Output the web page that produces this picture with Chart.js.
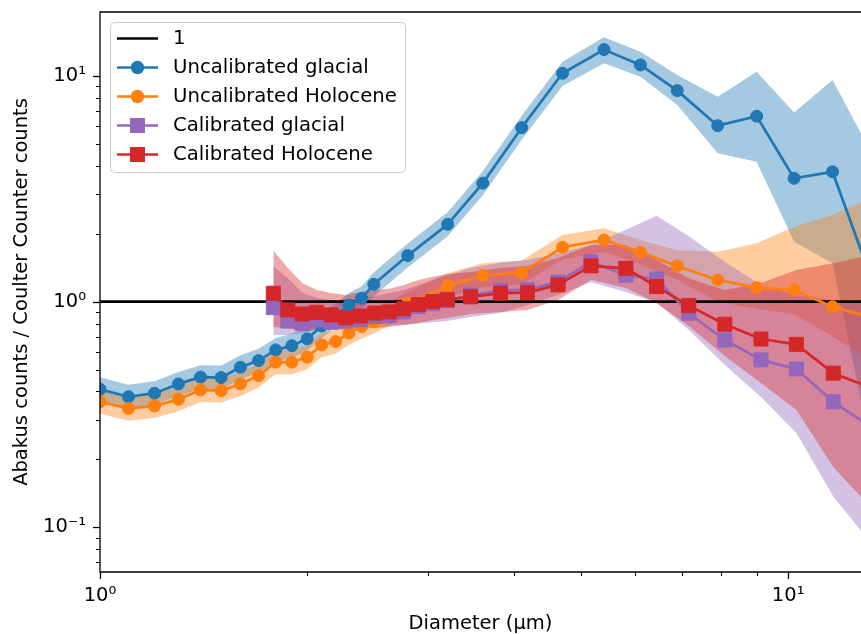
<!DOCTYPE html>
<html><head><meta charset="utf-8">
<script src="https://cdn.jsdelivr.net/npm/chart.js@4/dist/chart.umd.min.js"></script>
<style>
html,body{margin:0;padding:0;background:#fff;overflow:hidden;}
canvas{display:block;}
</style></head><body>
<canvas id="c" width="861" height="634"></canvas>
<script>
// ---------------- data ----------------
const UNCAL_DIAMETER = [1.0,1.1,1.2,1.3,1.4,1.5,1.6,1.7,1.8,1.9,2.0,2.1,2.2,2.3,2.4,2.5,2.8,3.2,3.6,4.1,4.7,5.4,6.1,6.9,7.9,9.0,10.2,11.6,13.2];

const UNCAL_GLACIAL      = [0.409,0.379,0.393,0.432,0.463,0.461,0.512,0.548,0.611,0.638,0.684,0.78,0.87,0.967,1.035,1.194,1.60,2.20,3.35,5.90,10.28,13.08,11.19,8.61,6.02,6.63,3.52,3.76,1.27];
const UNCAL_GLACIAL_HIGH = [0.462,0.428,0.444,0.488,0.523,0.521,0.579,0.619,0.690,0.721,0.773,0.881,0.983,1.093,1.170,1.349,1.81,2.49,3.79,6.67,11.57,14.85,12.8,10.1,8.09,10.45,6.88,9.6,4.6];
const UNCAL_GLACIAL_LOW  = [0.362,0.335,0.348,0.382,0.410,0.408,0.453,0.485,0.541,0.565,0.605,0.69,0.77,0.856,0.916,1.057,1.416,1.947,2.96,5.22,9.03,11.38,9.93,7.44,4.55,4.17,1.84,1.48,0.22];

const UNCAL_HOLOCENE      = [0.360,0.336,0.345,0.369,0.406,0.403,0.432,0.47,0.539,0.539,0.567,0.643,0.665,0.725,0.775,0.815,0.98,1.177,1.309,1.345,1.741,1.877,1.655,1.439,1.248,1.154,1.127,0.95,0.85];
const UNCAL_HOLOCENE_HIGH = [0.407,0.380,0.390,0.417,0.459,0.455,0.488,0.531,0.609,0.609,0.641,0.727,0.751,0.819,0.876,0.921,1.107,1.336,1.48,1.52,1.975,2.115,1.876,1.69,1.665,1.815,2.148,2.42,2.88];
const UNCAL_HOLOCENE_LOW  = [0.319,0.297,0.305,0.327,0.359,0.357,0.382,0.416,0.477,0.477,0.502,0.569,0.588,0.642,0.686,0.721,0.867,1.042,1.158,1.19,1.541,1.661,1.465,1.25,1.0,0.93,0.88,0.70,0.55];

const CAL_DIAMETER = [1.786,1.875,1.967,2.065,2.168,2.275,2.389,2.507,2.632,2.763,2.901,3.045,3.196,3.456,3.82,4.18,4.63,5.17,5.81,6.44,7.17,8.09,9.13,10.28,11.63,13.2];

const CAL_GLACIAL      = [0.94,0.82,0.80,0.83,0.81,0.82,0.83,0.86,0.87,0.90,0.95,0.98,1.01,1.07,1.12,1.13,1.22,1.50,1.31,1.26,0.888,0.676,0.552,0.503,0.36,0.278];
const CAL_GLACIAL_HIGH = [1.43,1.27,1.093,1.038,1.017,1.017,1.04,1.06,1.093,1.127,1.186,1.248,1.31,1.41,1.49,1.53,1.64,1.78,2.08,2.40,1.95,1.50,1.186,1.07,1.017,0.967];
const CAL_GLACIAL_LOW  = [0.712,0.712,0.727,0.75,0.765,0.78,0.80,0.80,0.79,0.79,0.80,0.81,0.82,0.855,0.89,0.967,1.07,1.22,1.104,0.987,0.75,0.524,0.378,0.262,0.137,0.085];

const CAL_HOLOCENE      = [1.09,0.919,0.882,0.897,0.873,0.847,0.864,0.89,0.90,0.93,0.97,1.0,1.02,1.05,1.09,1.096,1.186,1.44,1.405,1.166,0.96,0.794,0.683,0.647,0.482,0.415];
const CAL_HOLOCENE_HIGH = [1.683,1.41,1.21,1.127,1.093,1.07,1.104,1.127,1.14,1.186,1.248,1.29,1.327,1.354,1.41,1.44,1.56,1.78,1.78,1.53,1.27,1.127,1.21,1.38,1.48,1.61];
const CAL_HOLOCENE_LOW  = [0.772,0.765,0.742,0.75,0.757,0.75,0.757,0.765,0.772,0.788,0.804,0.83,0.847,0.882,0.9,0.919,1.017,1.25,1.15,0.987,0.78,0.575,0.436,0.331,0.185,0.122];

const REFERENCE_LEVEL = 1;
const LEGEND_LABELS = ['1','Uncalibrated glacial','Uncalibrated Holocene','Calibrated glacial','Calibrated Holocene'];
const X_TICK_VALUES = [1, 10];
const X_TICK_LABELS = ['10\u2070','10\u00B9'];
const Y_TICK_VALUES = [0.1, 1, 10];
const Y_TICK_LABELS = ['10\u207B\u00B9','10\u2070','10\u00B9'];
const X_LIMITS = [1, 12.76];
const Y_LIMITS = [0.0634, 19.2];
const X_TITLE = 'Diameter (\u03BCm)';
const Y_TITLE = 'Abakus counts / Coulter Counter counts';

// ---------------- styling ----------------
const BLUE='#1f77b4', ORANGE='#ff7f0e', PURPLE='#9467bd', RED='#d62728';
const FILL = {blue:'rgba(31,119,180,0.4)', orange:'rgba(255,127,14,0.4)', purple:'rgba(148,103,189,0.4)', red:'rgba(214,39,40,0.4)'};
const FONT = '"DejaVu Sans", "Liberation Sans", sans-serif';
const FS = 19.5;
const LW = 2.7;

function pts(xs, ys){ return xs.map((x,i)=>({x:x, y:ys[i]})); }

function lineDs(label, xs, ys, color, style, radius, order){
  return {label, data: pts(xs, ys), borderColor: color, backgroundColor: color,
    borderWidth: LW, pointStyle: style, pointRadius: radius, pointBorderWidth: 1,
    pointBorderColor: color, pointBackgroundColor: color, fill: false, order,
    borderJoinStyle:'round', tension: 0};
}
function bandDs(xs, hi, lo, fillColor, order){
  return [
    {label:'_hi', data: pts(xs, hi), borderWidth: 0, borderColor:'rgba(0,0,0,0)', pointRadius: 0, fill: false, order, tension:0},
    {label:'_lo', data: pts(xs, lo), borderWidth: 0, borderColor:'rgba(0,0,0,0)', pointRadius: 0, fill: '-1', backgroundColor: fillColor, order, tension:0}
  ];
}

const datasets = [
  lineDs(LEGEND_LABELS[4], CAL_DIAMETER, CAL_HOLOCENE, RED, 'rect', 9.9, 0),
  lineDs(LEGEND_LABELS[3], CAL_DIAMETER, CAL_GLACIAL, PURPLE, 'rect', 9.9, 1),
  lineDs(LEGEND_LABELS[2], UNCAL_DIAMETER, UNCAL_HOLOCENE, ORANGE, 'circle', 6, 2),
  lineDs(LEGEND_LABELS[1], UNCAL_DIAMETER, UNCAL_GLACIAL, BLUE, 'circle', 6, 3),
  {label: LEGEND_LABELS[0], data: [{x:X_LIMITS[0], y:REFERENCE_LEVEL},{x:X_LIMITS[1], y:REFERENCE_LEVEL}],
    borderColor:'#000', borderWidth: LW, pointRadius: 0, fill: false, order: 4},
  ...bandDs(CAL_DIAMETER, CAL_HOLOCENE_HIGH, CAL_HOLOCENE_LOW, FILL.red, 5),
  ...bandDs(CAL_DIAMETER, CAL_GLACIAL_HIGH, CAL_GLACIAL_LOW, FILL.purple, 6),
  ...bandDs(UNCAL_DIAMETER, UNCAL_HOLOCENE_HIGH, UNCAL_HOLOCENE_LOW, FILL.orange, 7),
  ...bandDs(UNCAL_DIAMETER, UNCAL_GLACIAL_HIGH, UNCAL_GLACIAL_LOW, FILL.blue, 8)
];

const LEGEND_STYLE = [
  {color:'#000', marker:null},
  {color:BLUE, marker:'circle'},
  {color:ORANGE, marker:'circle'},
  {color:PURPLE, marker:'rect'},
  {color:RED, marker:'rect'}
];

function minorValues(lo, hi){
  const out = [];
  for (let e = -3; e <= 3; e++) for (let k = 1; k <= 9; k++){
    const v = k * Math.pow(10, e);
    if (v >= lo && v <= hi) out.push({v, major: k === 1});
  }
  return out;
}

const decor = {
  id: 'decor',
  afterDatasetsDraw(chart){
    const {ctx, chartArea: a, scales} = chart;
    const xs = scales.x, ys = scales.y;
    ctx.save();
    ctx.strokeStyle = '#000';
    minorValues(X_LIMITS[0], X_LIMITS[1]).forEach(t => {
      const px = Math.round(xs.getPixelForValue(t.v)) + 0.5;
      ctx.lineWidth = t.major ? 1.3 : 1;
      ctx.beginPath(); ctx.moveTo(px, a.bottom); ctx.lineTo(px, a.bottom + (t.major ? 7 : 4)); ctx.stroke();
    });
    minorValues(Y_LIMITS[0], Y_LIMITS[1]).forEach(t => {
      const py = Math.round(ys.getPixelForValue(t.v)) + 0.5;
      ctx.lineWidth = t.major ? 1.3 : 1;
      ctx.beginPath(); ctx.moveTo(a.left, py); ctx.lineTo(a.left - (t.major ? 7 : 4), py); ctx.stroke();
    });
    // spines (the right spine lies beyond the cropped edge of the picture)
    ctx.lineWidth = 1.3;
    ctx.beginPath();
    ctx.moveTo(a.right + 2, a.top); ctx.lineTo(a.left, a.top); ctx.lineTo(a.left, a.bottom); ctx.lineTo(a.right + 2, a.bottom);
    ctx.stroke();
    ctx.restore();
  },
  afterDraw(chart){
    const ctx = chart.ctx;
    ctx.save();
    const bx = 110.5, by = 22.5, bw = 295, bh = 150, r = 4;
    ctx.beginPath();
    ctx.moveTo(bx + r, by); ctx.lineTo(bx + bw - r, by); ctx.arcTo(bx + bw, by, bx + bw, by + r, r);
    ctx.lineTo(bx + bw, by + bh - r); ctx.arcTo(bx + bw, by + bh, bx + bw - r, by + bh, r);
    ctx.lineTo(bx + r, by + bh); ctx.arcTo(bx, by + bh, bx, by + bh - r, r);
    ctx.lineTo(bx, by + r); ctx.arcTo(bx, by, bx + r, by, r); ctx.closePath();
    ctx.fillStyle = 'rgba(255,255,255,0.8)'; ctx.fill();
    ctx.strokeStyle = '#cccccc'; ctx.lineWidth = 1; ctx.stroke();
    ctx.font = '19.7px ' + FONT;
    ctx.textBaseline = 'middle';
    ctx.textAlign = 'left';
    LEGEND_LABELS.forEach((lab, i) => {
      const y = 38.5 + i * 29;
      const st = LEGEND_STYLE[i];
      ctx.strokeStyle = st.color; ctx.lineWidth = LW;
      ctx.beginPath(); ctx.moveTo(117, y); ctx.lineTo(158, y); ctx.stroke();
      ctx.fillStyle = st.color;
      if (st.marker === 'circle'){
        ctx.beginPath(); ctx.arc(137.5, y, 6.7, 0, Math.PI * 2); ctx.fill();
      } else if (st.marker === 'rect'){
        ctx.fillRect(137.5 - 7.5, y - 7.5, 15, 15);
      }
      ctx.fillStyle = '#000';
      ctx.fillText(lab, 173, y);
    });
    ctx.restore();
  }
};

const isClose = (a, b) => Math.abs(a - b) < 1e-9 * Math.max(1, Math.abs(b));

new Chart(document.getElementById('c'), {
  type: 'line',
  data: {datasets},
  plugins: [decor],
  options: {
    responsive: false,
    animation: false,
    devicePixelRatio: 1,
    layout: {autoPadding: false, padding: {top: 12, left: 0, right: 0, bottom: 0}},
    plugins: {
      legend: {display: false},
      tooltip: {enabled: false},
      filler: {drawTime: 'beforeDatasetsDraw', propagate: false}
    },
    elements: {line: {tension: 0}},
    scales: {
      x: {
        type: 'logarithmic', position: 'bottom',
        min: X_LIMITS[0], max: X_LIMITS[1],
        grid: {display: false, drawTicks: false},
        border: {display: false},
        afterBuildTicks: s => { s.ticks = X_TICK_VALUES.map(v => ({value: v, major: true})); },
        ticks: {
          autoSkip: false, maxRotation: 0, padding: 12, color: '#000',
          font: {family: FONT, size: FS},
          callback: (v) => { const i = X_TICK_VALUES.findIndex(t => isClose(t, v)); return i >= 0 ? X_TICK_LABELS[i] : ''; }
        },
        title: {display: true, text: X_TITLE, color: '#000', font: {family: FONT, size: FS, lineHeight: 1.0}, padding: {top: 0, bottom: 0}},
        afterFit: s => { s.height = 62; s.paddingLeft = 0; s.paddingRight = 0; }
      },
      y: {
        type: 'logarithmic', position: 'left',
        min: Y_LIMITS[0], max: Y_LIMITS[1],
        grid: {display: false, drawTicks: false},
        border: {display: false},
        afterBuildTicks: s => { s.ticks = Y_TICK_VALUES.map(v => ({value: v, major: true})); },
        ticks: {
          autoSkip: false, padding: 14, color: '#000',
          font: {family: FONT, size: FS},
          callback: (v) => { const i = Y_TICK_VALUES.findIndex(t => isClose(t, v)); return i >= 0 ? Y_TICK_LABELS[i] : ''; }
        },
        title: {display: true, text: Y_TITLE, color: '#000', font: {family: FONT, size: FS}, padding: {top: 10, bottom: 0}},
        afterFit: s => { s.width = 100; s.paddingTop = 0; s.paddingBottom = 0; }
      }
    }
  }
});
</script>
</body></html>
